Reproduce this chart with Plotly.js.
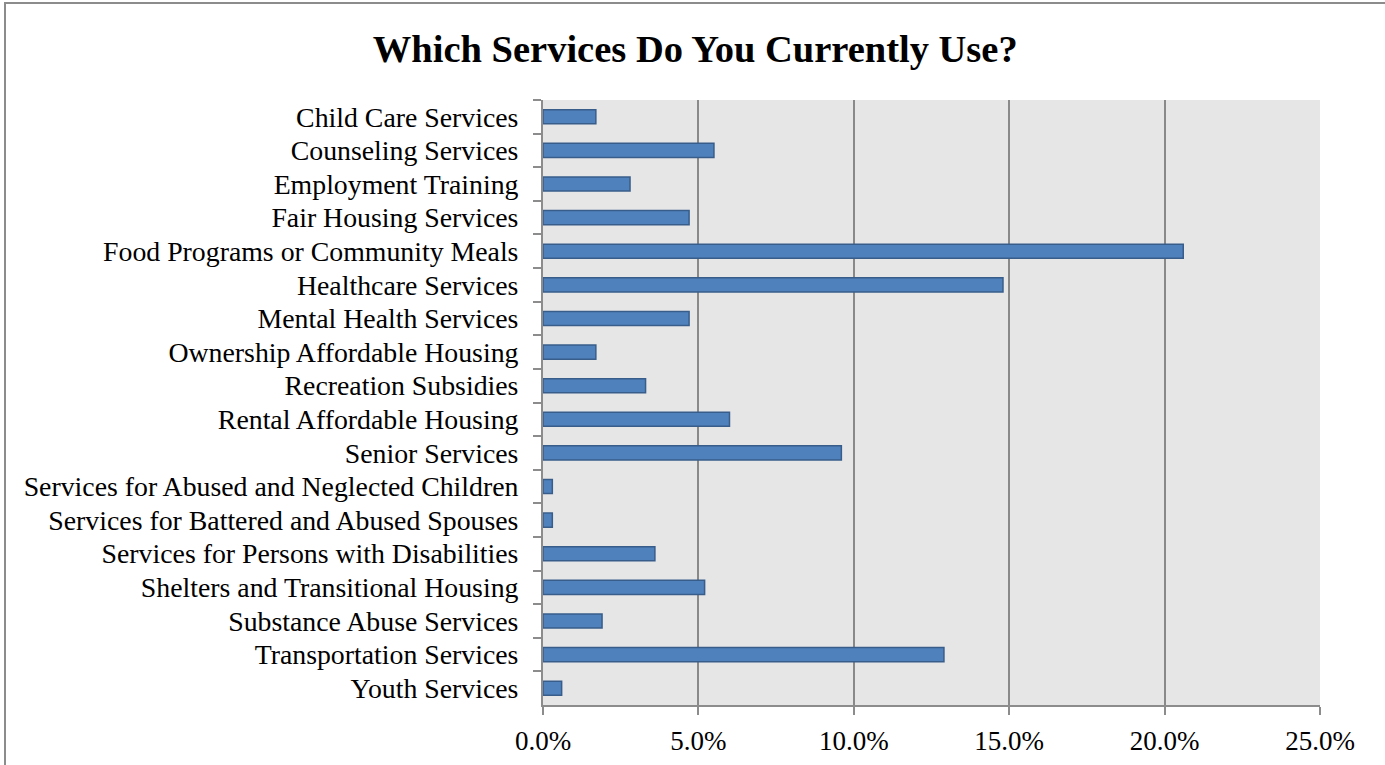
<!DOCTYPE html>
<html>
<head>
<meta charset="utf-8">
<script src="https://cdn.plot.ly/plotly-3.0.1.min.js"></script>
<style>
  html, body { margin: 0; padding: 0; background: #ffffff; }
  #wrap { position: relative; width: 1385px; height: 765px; overflow: hidden; }
  #chart { position: absolute; left: 0; top: 0; width: 1385px; height: 765px; }
  #frameTop { position: absolute; left: 4px; top: 2px; width: 1381px; height: 2px; background: #8c8c8c; }
  #frameLeft { position: absolute; left: 4px; top: 2px; width: 2px; height: 763px; background: #8c8c8c; }
</style>
</head>
<body>
<div id="wrap">
  <div id="chart"></div>
  <div id="frameTop"></div>
  <div id="frameLeft"></div>
</div>
<script>
const categories = [
  "Child Care Services",
  "Counseling Services",
  "Employment Training",
  "Fair Housing Services",
  "Food Programs or Community Meals",
  "Healthcare Services",
  "Mental Health Services",
  "Ownership Affordable Housing",
  "Recreation Subsidies",
  "Rental Affordable Housing",
  "Senior Services",
  "Services for Abused and Neglected Children",
  "Services for Battered and Abused Spouses",
  "Services for Persons with Disabilities",
  "Shelters and Transitional Housing",
  "Substance Abuse Services",
  "Transportation Services",
  "Youth Services"
];
const shares = [1.7, 5.5, 2.8, 4.7, 20.6, 14.8, 4.7, 1.7, 3.3, 6.0, 9.6, 0.3, 0.3, 3.6, 5.2, 1.9, 12.9, 0.6];
const xTickValues = [0, 5, 10, 15, 20, 25];
const xTickLabels = ["0.0%", "5.0%", "10.0%", "15.0%", "20.0%", "25.0%"];
const chartTitle = "Which Services Do You Currently Use?";

const serif = "Liberation Serif, Times New Roman, serif";

const trace = {
  type: "bar",
  orientation: "h",
  x: shares,
  y: categories,
  width: 0.42,
  marker: { color: "#4F81BD", line: { color: "#385D8A", width: 1.5 } },
  hoverinfo: "x+y"
};

const layout = {
  width: 1385,
  height: 765,
  paper_bgcolor: "#ffffff",
  plot_bgcolor: "#E6E6E6",
  margin: { l: 543, r: 65, t: 100, b: 60, pad: 0 },
  title: {
    text: "<b>" + chartTitle + "</b>",
    font: { family: serif, size: 38.5, color: "#000000" },
    x: 0.502, xanchor: "center", y: 0.937, yanchor: "middle"
  },
  showlegend: false,
  xaxis: {
    range: [0, 25],
    tickvals: xTickValues,
    ticktext: xTickLabels,
    showgrid: true,
    gridcolor: "#898989",
    gridwidth: 2,
    zeroline: false,
    showline: true,
    linecolor: "#8c8c8c",
    linewidth: 2,
    ticks: "outside",
    ticklen: 8,
    tickwidth: 2,
    tickcolor: "#8c8c8c",
    ticklabelstandoff: 3,
    tickfont: { family: serif, size: 27, color: "#000000" },
    fixedrange: true
  },
  yaxis: {
    type: "category",
    autorange: "reversed",
    showgrid: false,
    zeroline: false,
    showline: true,
    linecolor: "#8c8c8c",
    linewidth: 2,
    ticks: "outside",
    tickson: "boundaries",
    ticklen: 8,
    tickwidth: 2,
    tickcolor: "#8c8c8c",
    ticklabelstandoff: 17,
    tickfont: { family: serif, size: 27.8, color: "#000000" },
    fixedrange: true
  }
};

Plotly.newPlot("chart", [trace], layout, { displayModeBar: false, staticPlot: true });
</script>
</body>
</html>
